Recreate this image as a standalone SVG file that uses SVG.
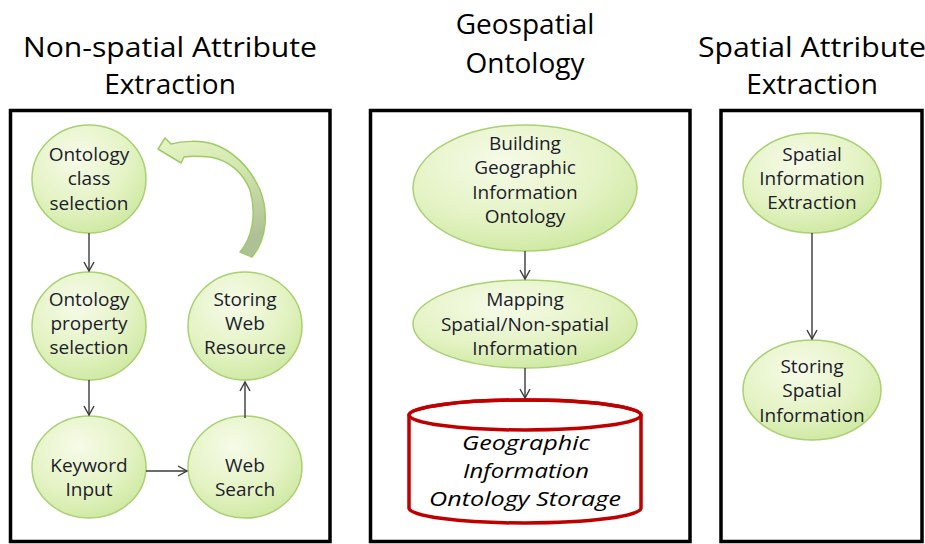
<svg xmlns="http://www.w3.org/2000/svg" width="925" height="544" viewBox="0 0 925 544">
<defs>
<radialGradient id="g" cx="0.4" cy="0.3" r="0.75">
<stop offset="0" stop-color="#f6fbe8"/>
<stop offset="0.6" stop-color="#e4f3c4"/>
<stop offset="1" stop-color="#cde8a0"/>
</radialGradient>
<linearGradient id="ca" x1="0" y1="0" x2="0.3" y2="1">
<stop offset="0" stop-color="#e6f5c6"/>
<stop offset="0.45" stop-color="#d2e6ad"/>
<stop offset="1" stop-color="#b0c096"/>
</linearGradient>
<marker id="ah" markerUnits="userSpaceOnUse" markerWidth="14" markerHeight="14" refX="10" refY="6" orient="auto">
<path d="M1,1 L10,6 L1,11" fill="none" stroke="#3a3a3a" stroke-width="1.4"/>
</marker>
<style>
.box{fill:#fff;stroke:#000;stroke-width:3.5}
.title{font-family:"Open Sans","Noto Sans",sans-serif;font-size:28px;fill:#000;text-anchor:middle}
.node{fill:url(#g);stroke:#a9d072;stroke-width:1.5}
.t{font-family:"Open Sans","Noto Sans",sans-serif;font-size:19px;fill:#1c1c2c;text-anchor:middle}
.it{font-family:"Open Sans","Noto Sans",sans-serif;font-size:20.5px;font-style:italic;fill:#000;text-anchor:middle}
.c{fill:none;stroke:#3a3a3a;stroke-width:1.4;marker-end:url(#ah)}
.cyl{fill:#fff;stroke:#c00000;stroke-width:3.5}
</style>
</defs>

<g id="titles">
<text class="title" x="170" y="57" textLength="294" lengthAdjust="spacingAndGlyphs">Non-spatial Attribute</text>
<text class="title" x="170" y="94">Extraction</text>
<text class="title" x="525" y="34">Geospatial</text>
<text class="title" x="525" y="73">Ontology</text>
<text class="title" x="812" y="57" textLength="228" lengthAdjust="spacingAndGlyphs">Spatial Attribute</text>
<text class="title" x="812" y="94">Extraction</text>
</g>

<g id="panels">
<rect class="box" x="10.5" y="110.5" width="319.5" height="431"/>
<rect class="box" x="370.5" y="110.5" width="319.5" height="431"/>
<rect class="box" x="721" y="110.5" width="201" height="431"/>
</g>

<g id="n1">
<ellipse class="node" cx="89" cy="179" rx="57" ry="54"/>
<text class="t" x="89" y="161">Ontology</text>
<text class="t" x="89" y="185">class</text>
<text class="t" x="89" y="210">selection</text>
</g>
<g id="n2">
<ellipse class="node" cx="89" cy="326" rx="57" ry="54"/>
<text class="t" x="89" y="306">Ontology</text>
<text class="t" x="89" y="330">property</text>
<text class="t" x="89" y="354">selection</text>
</g>
<g id="n3">
<ellipse class="node" cx="89" cy="467" rx="57" ry="51"/>
<text class="t" x="89" y="472">Keyword</text>
<text class="t" x="89" y="496">Input</text>
</g>
<g id="n4">
<ellipse class="node" cx="245" cy="467" rx="57" ry="51"/>
<text class="t" x="245" y="472">Web</text>
<text class="t" x="245" y="496">Search</text>
</g>
<g id="n5">
<ellipse class="node" cx="245" cy="326" rx="57" ry="54"/>
<text class="t" x="245" y="306">Storing</text>
<text class="t" x="245" y="330">Web</text>
<text class="t" x="245" y="354">Resource</text>
</g>

<g id="m1">
<ellipse class="node" cx="525" cy="188" rx="112" ry="63"/>
<text class="t" x="525" y="150">Building</text>
<text class="t" x="525" y="174">Geographic</text>
<text class="t" x="525" y="199">Information</text>
<text class="t" x="525" y="223">Ontology</text>
</g>
<g id="m2">
<ellipse class="node" cx="525" cy="324" rx="112" ry="44"/>
<text class="t" x="525" y="306">Mapping</text>
<text class="t" x="525" y="331">Spatial/Non-spatial</text>
<text class="t" x="525" y="355">Information</text>
</g>
<g id="m3">
<path class="cyl" d="M409,415 L409,508 A116,15 0 0 0 641,508 L641,415 A116,15 0 0 0 409,415 Z"/>
<ellipse cx="525" cy="415" rx="116" ry="15" fill="none" stroke="#c00000" stroke-width="3.5"/>
<text class="it" x="526" y="450" textLength="128" lengthAdjust="spacingAndGlyphs">Geographic</text>
<text class="it" x="526" y="478" textLength="126" lengthAdjust="spacingAndGlyphs">Information</text>
<text class="it" x="525" y="506" textLength="192" lengthAdjust="spacingAndGlyphs">Ontology Storage</text>
</g>

<g id="r1">
<ellipse class="node" cx="812" cy="183" rx="69" ry="50"/>
<text class="t" x="812" y="161">Spatial</text>
<text class="t" x="812" y="185">Information</text>
<text class="t" x="812" y="209">Extraction</text>
</g>
<g id="r2">
<ellipse class="node" cx="812" cy="390" rx="69" ry="50"/>
<text class="t" x="812" y="373">Storing</text>
<text class="t" x="812" y="397">Spatial</text>
<text class="t" x="812" y="422">Information</text>
</g>

<g id="connectors">
<line class="c" x1="89" y1="233" x2="89" y2="271"/>
<line class="c" x1="89" y1="380" x2="89" y2="415"/>
<line class="c" x1="146" y1="471" x2="187" y2="471"/>
<line class="c" x1="245" y1="418" x2="245" y2="382"/>
<line class="c" x1="525" y1="251" x2="525" y2="279"/>
<line class="c" x1="525" y1="368" x2="525" y2="398"/>
<line class="c" x1="812" y1="233" x2="812" y2="339"/>
<path id="curved" d="M158,149 L165,138 L171,144 C182,141 200,140 213,144 C232,150 250,167 260,190 C268,210 268,238 252,257 L240,252 C252,238 257,215 250,190 C243,172 228,160 210,157 C200,156 190,156 184,157 L181,163 Z" fill="url(#ca)" stroke="#9ccc65" stroke-width="1.5" stroke-linejoin="round"/>
</g>
</svg>
